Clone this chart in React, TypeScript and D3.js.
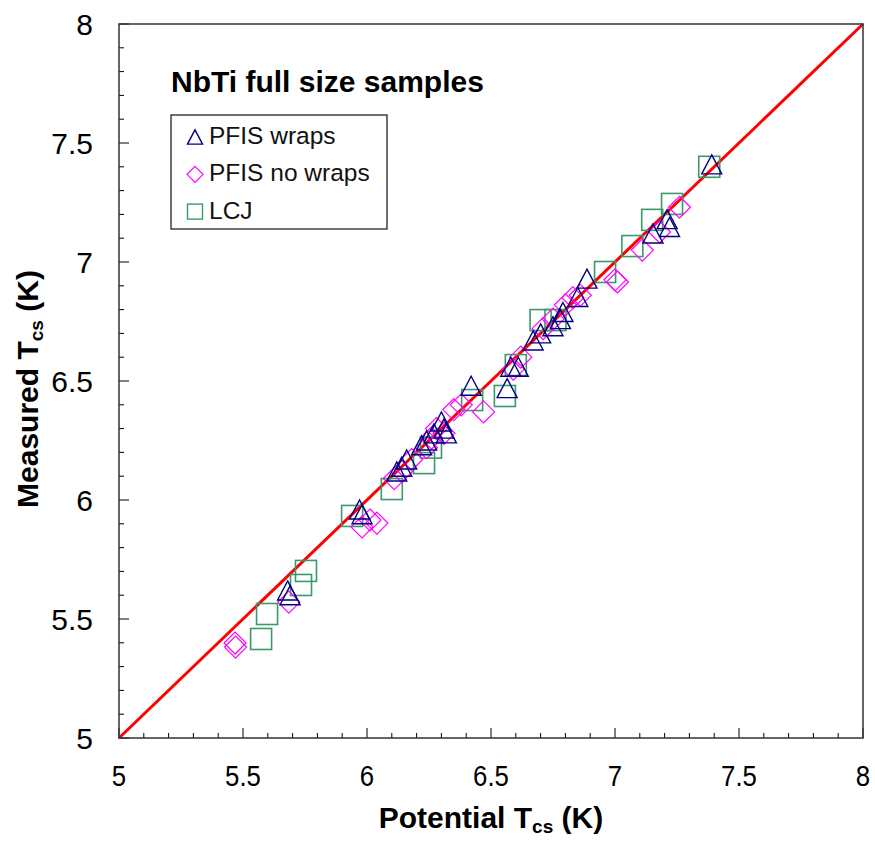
import React from "react";
import * as d3 from "d3";

const wrapsX = [5.68, 5.69, 5.97, 5.98, 6.12, 6.14, 6.16, 6.22, 6.24, 6.27, 6.30, 6.31, 6.32, 6.42, 6.565, 6.58, 6.61, 6.67, 6.70, 6.75, 6.78, 6.79, 6.85, 6.887, 7.153, 7.21, 7.22, 7.39];
const wrapsY = [5.62, 5.60, 5.96, 5.94, 6.12, 6.14, 6.17, 6.23, 6.25, 6.28, 6.33, 6.30, 6.28, 6.48, 6.47, 6.56, 6.56, 6.67, 6.70, 6.73, 6.76, 6.79, 6.853, 6.93, 7.12, 7.18, 7.147, 7.41];

const noWrapsX = [5.47, 5.468, 5.685, 5.98, 6.012, 6.04, 6.11, 6.14, 6.18, 6.24, 6.26, 6.28, 6.31, 6.35, 6.38, 6.47, 6.59, 6.62, 6.71, 6.75, 6.80, 6.83, 6.86, 7.01, 7.0, 7.11, 7.18, 7.26];
const noWrapsY = [5.382, 5.399, 5.571, 5.887, 5.916, 5.903, 6.09, 6.12, 6.17, 6.22, 6.26, 6.30, 6.28, 6.38, 6.40, 6.37, 6.55, 6.60, 6.72, 6.76, 6.82, 6.85, 6.86, 6.916, 6.925, 7.05, 7.126, 7.23];

const lcjX = [5.573, 5.597, 5.734, 5.754, 5.94, 6.10, 6.23, 6.258, 6.424, 6.556, 6.60, 6.70, 6.76, 6.96, 7.07, 7.15, 7.23, 7.38];
const lcjY = [5.416, 5.521, 5.643, 5.702, 5.933, 6.046, 6.155, 6.22, 6.42, 6.437, 6.567, 6.756, 6.756, 6.958, 7.067, 7.177, 7.244, 7.40];

const xTicks = [5, 5.5, 6, 6.5, 7, 7.5, 8];
const yTicks = [5, 5.5, 6, 6.5, 7, 7.5, 8];
const legendLabels = ["PFIS wraps", "PFIS no wraps", "LCJ"];

const W = 875, H = 841;
const L = 119, R = 863, T = 24, B = 738;
const NAVY = "#000080", MAG = "#FF00FF", GREEN = "#3A9A6A";

const tri = (cx: number, cy: number, s: number) => {
  const h = s * 0.95;
  return `M${cx},${cy - h / 2}L${cx + s / 2},${cy + h / 2}L${cx - s / 2},${cy + h / 2}Z`;
};
const dia = (cx: number, cy: number, r: number) =>
  `M${cx},${cy - r}L${cx + r},${cy}L${cx},${cy + r}L${cx - r},${cy}Z`;

export default function App() {
  const x = d3.scaleLinear().domain([5, 8]).range([L, R]);
  const y = d3.scaleLinear().domain([5, 8]).range([B, T]);
  const minor = d3.range(5, 8.0001, 0.1).map((v) => Math.round(v * 10) / 10);
  const font = "Liberation Sans, Arial, sans-serif";

  return (
    <svg width={W} height={H} style={{ position: "absolute", left: 0, top: 0 }} fontFamily={font}>
      <rect x={0} y={0} width={W} height={H} fill="#fff" />
      {/* ticks */}
      {minor.map((v, i) => {
        const major = Math.abs(v * 2 - Math.round(v * 2)) < 1e-6;
        const len = major ? 10 : 5;
        return (
          <g key={i} stroke="#000" strokeWidth={1}>
            <line x1={x(v)} x2={x(v)} y1={B} y2={B - len} />
            <line x1={L} x2={L + len} y1={y(v)} y2={y(v)} />
          </g>
        );
      })}
      {/* y=x line */}
      <line x1={x(5)} y1={y(5)} x2={x(8)} y2={y(8)} stroke="#FF0000" strokeWidth={3} />
      {/* LCJ squares */}
      {lcjX.map((v, i) => (
        <rect key={"s" + i} x={x(v) - 10.5} y={y(lcjY[i]) - 10.5} width={21} height={21} fill="none" stroke={GREEN} strokeWidth={1.6} />
      ))}
      {/* no wraps diamonds */}
      {noWrapsX.map((v, i) => (
        <path key={"d" + i} d={dia(x(v), y(noWrapsY[i]), 11)} fill="none" stroke={MAG} strokeWidth={1.2} />
      ))}
      {/* wraps triangles */}
      {wrapsX.map((v, i) => (
        <path key={"t" + i} d={tri(x(v), y(wrapsY[i]), 20)} fill="none" stroke={NAVY} strokeWidth={1.4} />
      ))}
      {/* frame */}
      <rect x={L} y={T} width={R - L} height={B - T} fill="none" stroke="#333" strokeWidth={1.5} />
      {/* tick labels */}
      {xTicks.map((v) => (
        <text key={"xl" + v} x={x(v)} y={786} fontSize={30} textAnchor="middle" transform={`translate(${x(v)},0) scale(0.86,1) translate(${-x(v)},0)`}>
          {v}
        </text>
      ))}
      {yTicks.map((v) => (
        <text key={"yl" + v} x={93} y={y(v) + 11} fontSize={30} textAnchor="end">
          {v}
        </text>
      ))}
      {/* axis titles */}
      <text x={491} y={828} fontSize={30} fontWeight="bold" textAnchor="middle">
        Potential T<tspan fontSize={19} dy={5}>cs</tspan><tspan dy={-5}> (K)</tspan>
      </text>
      <text transform={`translate(38,${(T + B) / 2 + 8}) rotate(-90)`} fontSize={30} fontWeight="bold" textAnchor="middle">
        Measured T<tspan fontSize={19} dy={5}>cs</tspan><tspan dy={-5}> (K)</tspan>
      </text>
      {/* title */}
      <text x={171} y={92} fontSize={30} fontWeight="bold">
        NbTi full size samples
      </text>
      {/* legend */}
      <rect x={171} y={115} width={216} height={114} fill="#fff" stroke="#222" strokeWidth={1.3} />
      {legendLabels.map((lab, i) => {
        const cy = 137 + i * 37.3;
        const cx = 195;
        let mark;
        if (i === 0) mark = <path d={tri(cx, cy, 15)} fill="none" stroke={NAVY} strokeWidth={1.4} />;
        else if (i === 1) mark = <path d={dia(cx, cy, 8)} fill="none" stroke={MAG} strokeWidth={1.2} />;
        else mark = <rect x={cx - 7.5} y={cy - 7.5} width={15} height={15} fill="none" stroke={GREEN} strokeWidth={1.4} />;
        return (
          <g key={lab}>
            {mark}
            <text x={209} y={cy + 7} fontSize={24.5} fill="#111">
              {lab}
            </text>
          </g>
        );
      })}
    </svg>
  );
}
